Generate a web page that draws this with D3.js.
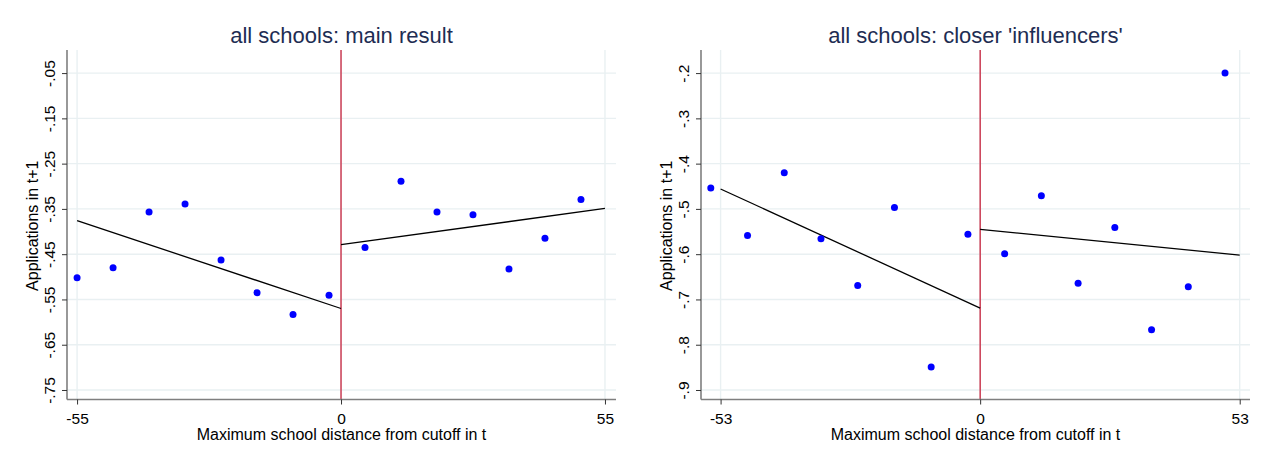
<!DOCTYPE html>
<html>
<head>
<meta charset="utf-8">
<script src="https://cdn.jsdelivr.net/npm/d3@7"></script>
<style>
  html, body { margin: 0; padding: 0; background: #fff; }
  svg { display: block; font-family: "Liberation Sans", Arial, sans-serif; }
</style>
</head>
<body>
<svg id="chart" width="1266" height="450"></svg>
<script>
// Binned means of applications in t+1 by maximum school distance from cutoff
const binX = [-55, -47.5, -40, -32.5, -25, -17.5, -10, -2.5, 5, 12.5, 20, 27.5, 35, 42.5, 50];

// Panel 1: main result
const mainY = [-0.502, -0.480, -0.357, -0.339, -0.463, -0.535, -0.583, -0.541,
               -0.435, -0.289, -0.357, -0.363, -0.483, -0.415, -0.329];
const mainFitLeft = [[-55, -0.376], [0, -0.570]];
const mainFitRight = [[0, -0.429], [55, -0.349]];
const mainYTicks = [-0.05, -0.15, -0.25, -0.35, -0.45, -0.55, -0.65, -0.75];
const mainXTicks = [-55, 0, 55];

// Panel 2: closer 'influencers'
const inflY = [-0.454, -0.559, -0.420, -0.566, -0.669, -0.497, -0.849, -0.556,
               -0.599, -0.471, -0.664, -0.541, -0.767, -0.672, -0.200];
const inflFitLeft = [[-53, -0.456], [0, -0.719]];
const inflFitRight = [[0, -0.545], [53, -0.602]];
const inflYTicks = [-0.2, -0.3, -0.4, -0.5, -0.6, -0.7, -0.8, -0.9];
const inflXTicks = [-53, 0, 53];

const panels = [
  { title: "all schools: main result", left: 67, right: 616,
    xDomain: [-57.1, 57.3], yDomain: [-0.771, 0.001],
    ys: mainY, fits: [mainFitLeft, mainFitRight],
    yTicks: mainYTicks, xTicks: mainXTicks,
    fmt: v => (v < 0 ? "-" : "") + "." + String(Math.round(Math.abs(v) * 100)).padStart(2, "0") },
  { title: "all schools: closer 'influencers'", left: 701, right: 1250,
    xDomain: [-57.0, 55.1], yDomain: [-0.921, -0.149],
    ys: inflY, fits: [inflFitLeft, inflFitRight],
    yTicks: inflYTicks, xTicks: inflXTicks,
    fmt: v => (v < 0 ? "-" : "") + "." + String(Math.round(Math.abs(v) * 10)) }
];

const plotTop = 50, plotBottom = 399.5;
const svg = d3.select("#chart");

const gridColor = "#e9f0f2";
const axisColor = "#7f7f7f";
const textColor = "#000";
const tickFont = 15.5;
const labelFont = 16;

panels.forEach(p => {
  const x = d3.scaleLinear().domain(p.xDomain).range([p.left, p.right]);
  const y = d3.scaleLinear().domain(p.yDomain).range([plotBottom, plotTop]);
  const g = svg.append("g");

  // horizontal grid
  g.selectAll("line.hgrid").data(p.yTicks).join("line")
    .attr("class", "hgrid")
    .attr("x1", p.left).attr("x2", p.right)
    .attr("y1", d => y(d)).attr("y2", d => y(d))
    .attr("stroke", gridColor).attr("stroke-width", 1.4);
  // vertical grid
  g.selectAll("line.vgrid").data(p.xTicks).join("line")
    .attr("class", "vgrid")
    .attr("x1", d => x(d)).attr("x2", d => x(d))
    .attr("y1", plotTop).attr("y2", plotBottom)
    .attr("stroke", gridColor).attr("stroke-width", 1.4);

  // cutoff line
  g.append("line")
    .attr("x1", x(0)).attr("x2", x(0))
    .attr("y1", plotTop).attr("y2", plotBottom)
    .attr("stroke", "#c4102d").attr("stroke-width", 1.2);

  // fitted lines
  const line = d3.line().x(d => x(d[0])).y(d => y(d[1]));
  p.fits.forEach(f => {
    g.append("path").attr("d", line(f))
      .attr("fill", "none").attr("stroke", "#000").attr("stroke-width", 1.3);
  });

  // binned means
  g.selectAll("circle").data(binX.map((d, i) => [d, p.ys[i]])).join("circle")
    .attr("cx", d => x(d[0])).attr("cy", d => y(d[1]))
    .attr("r", 3.5).attr("fill", "#0000ff");

  // x axis
  const xAxis = d3.axisBottom(x).tickValues(p.xTicks).tickSize(5).tickPadding(8)
    .tickFormat(d => String(d));
  const gx = g.append("g").attr("transform", `translate(0,${plotBottom})`).call(xAxis);
  gx.select(".domain").attr("d", `M${p.left},0H${p.right}`).attr("stroke", axisColor).attr("stroke-width", 1.6);
  gx.selectAll(".tick line").attr("stroke", "#333").attr("stroke-width", 1);
  gx.selectAll(".tick text").attr("font-size", tickFont).attr("fill", textColor)
    .attr("font-family", "Liberation Sans, Arial, sans-serif");

  // y axis
  const yAxis = d3.axisLeft(y).tickValues(p.yTicks).tickSize(5).tickPadding(4)
    .tickFormat(p.fmt);
  const gy = g.append("g").attr("transform", `translate(${p.left},0)`).call(yAxis);
  gy.select(".domain").attr("d", `M0,${plotTop}V${plotBottom}`).attr("stroke", axisColor).attr("stroke-width", 1.6);
  gy.selectAll(".tick line").attr("stroke", "#333").attr("stroke-width", 1);
  gy.selectAll(".tick text")
    .attr("font-size", tickFont).attr("fill", textColor)
    .attr("font-family", "Liberation Sans, Arial, sans-serif")
    .attr("x", null)
    .attr("text-anchor", "middle")
    .attr("transform", "translate(-17,0) rotate(-90)")
    .attr("dy", "0.35em");

  // axis titles
  g.append("text")
    .attr("x", (p.left + p.right) / 2).attr("y", 440)
    .attr("text-anchor", "middle").attr("font-size", labelFont).attr("fill", textColor)
    .text("Maximum school distance from cutoff in t");
  g.append("text")
    .attr("transform", `translate(${p.left - 29},${(plotTop + plotBottom) / 2 + 1}) rotate(-90)`)
    .attr("text-anchor", "middle").attr("font-size", labelFont).attr("fill", textColor)
    .text("Applications in t+1");

  // panel title
  g.append("text")
    .attr("x", (p.left + p.right) / 2).attr("y", 43)
    .attr("text-anchor", "middle").attr("font-size", 22).attr("fill", "#1e2d53")
    .text(p.title);
});
</script>
</body>
</html>
